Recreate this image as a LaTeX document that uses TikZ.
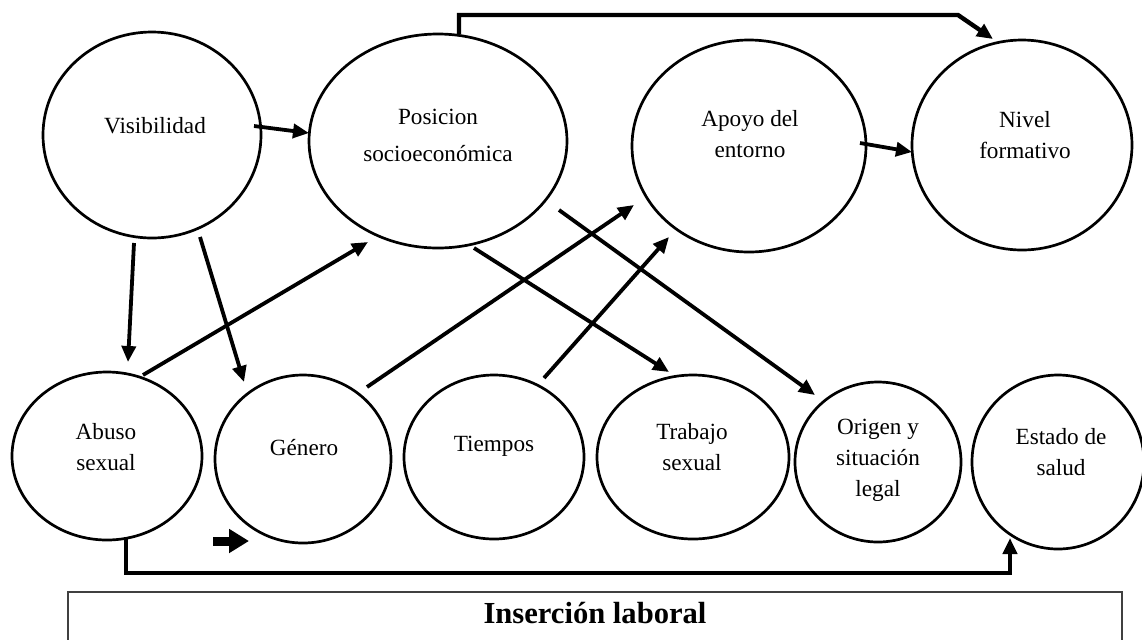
\documentclass[tikz,border=0pt]{standalone}
\usepackage{fontspec}
\setmainfont{Liberation Serif}
\usetikzlibrary{shapes.geometric,arrows.meta,calc}
\begin{document}
\begin{tikzpicture}[x=0.5pt,y=-0.5pt,
  circ/.style={ellipse,draw,line width=1.35pt,inner sep=0pt,outer sep=0pt},
  lbl/.style={align=center,inner sep=0pt,font=\fontsize{11.6}{15.5}\selectfont},
  tip/.style={-{Triangle[length=8pt,width=7pt]}},
  arr/.style={line width=1.9pt,tip},
  bar/.style={line width=2.2pt,tip},
  boxst/.style={draw=black!75,line width=0.8pt,inner sep=0pt,outer sep=0pt}]
\useasboundingbox (0,0) rectangle (1142,639);
\clip (0,0) rectangle (1142,639);
% circles
\node[circ,minimum width=109pt,minimum height=103pt] (vis) at (152,135) {};
\node[circ,minimum width=129pt,minimum height=107pt] (pos) at (438,141) {};
\node[circ,minimum width=117pt,minimum height=106pt] (apo) at (749,146) {};
\node[circ,minimum width=110pt,minimum height=105pt] (niv) at (1022,145) {};
\node[circ,minimum width=95pt,minimum height=84pt] (abu) at (107,456) {};
\node[circ,minimum width=88pt,minimum height=84pt] (gen) at (303,459) {};
\node[circ,minimum width=90pt,minimum height=82pt] (tie) at (494,457) {};
\node[circ,minimum width=96pt,minimum height=82pt] (tra) at (693,457) {};
\node[circ,minimum width=83pt,minimum height=80pt] (ori) at (878,462) {};
\node[circ,minimum width=86pt,minimum height=87pt] (est) at (1058,462) {};
% labels
\node[lbl] (visT) at (155,126) {Visibilidad};
\node[lbl,font=\fontsize{11.6}{18.5}\selectfont] (posT) at (438,135) {Posicion\\socioeconómica};
\node[lbl] (apoT) at (750,134) {Apoyo del\\entorno};
\node[lbl] (nivT) at (1025,135) {Nivel\\formativo};
\node[lbl] (abuT) at (106,447) {Abuso\\sexual};
\node[lbl] (genT) at (304,448) {Género};
\node[lbl] (tieT) at (494,446) {Tiempos};
\node[lbl] (traT) at (692,447) {Trabajo\\sexual};
\node[lbl] (oriT) at (878,460) {Origen y\\situación\\legal};
\node[lbl] (estT) at (1061,452) {Estado de\\salud};
% bottom box
\draw[boxst] (68,660) |- (1122,592) -- (1122,660);
\node[inner sep=0pt,font=\fontsize{15.3}{18}\selectfont\bfseries] (ins) at (595,613) {Inserción laboral};
% connectors
\draw[arr] ($(vis)+(102,-9)$) -- ($(pos)+(-129,-8)$);
\draw[arr] ($(apo)+(111,-3)$) -- ($(niv)+(-110,7)$);
\draw[arr] ($(vis)+(-18,108)$) -- ($(abu)+(21,-94)$);
\draw[arr] ($(vis)+(48,102)$) -- ($(gen)+(-59,-77)$);
\draw[arr] ($(abu)+(36,-81)$) -- ($(pos)+(-70,101)$);
\draw[arr] ($(pos)+(36,107)$) -- ($(tra)+(-24,-85)$);
\draw[arr] ($(pos)+(121,69)$) -- ($(ori)+(-63,-67)$);
\draw[arr] ($(gen)+(64,-72)$) -- ($(apo)+(-115,59)$);
\draw[arr] ($(tie)+(50,-79)$) -- ($(apo)+(-80,91)$);
\draw[bar] ($(pos)+(21,-107)$) -- ++(0,-19) -- ++(499,0) -- ($(niv)+(-29,-106)$);
\draw[bar] ($(abu)+(19,81)$) -- ++(0,36) -| ($(est)+(-48,76)$);
% stray arrow
\coordinate (sa) at (213,541);
\coordinate (sb) at (249,541);
\draw[line width=4.5pt,-{Triangle[length=10pt,width=11.5pt]}] (sa) -- (sb);
\end{tikzpicture}
\end{document}
